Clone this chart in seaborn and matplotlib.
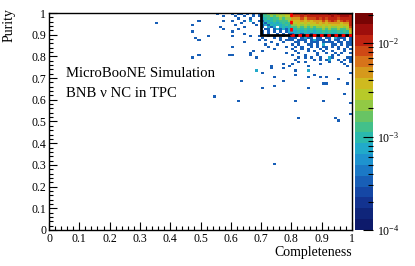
import numpy as np
import pandas as pd
import matplotlib
matplotlib.use("Agg")
import matplotlib.pyplot as plt
import seaborn as sns
from matplotlib.colors import LinearSegmentedColormap, LogNorm
from matplotlib.ticker import MultipleLocator, LogLocator, NullFormatter

plt.rcParams['font.family'] = ['Liberation Serif', 'DejaVu Serif']
plt.rcParams['mathtext.fontset'] = 'stix'

# ---------------- data ----------------
UNIT = 3.6e-4          # weight of one event
BIN_W = 0.01
DENSE_C0 = 0.60        # completeness of first column in DENSE_ROWS
DENSE_P_TOP = 0.99     # purity of first row in DENSE_ROWS

LEVEL_COUNTS = {'1': 1, '2': 2, '3': 3, '4': 4, '5': 6, '6': 8, '7': 11,
                '8': 15, '9': 21, 'R': 30, 'D': 42, 'X': 55}

DENSE_ROWS = [
    "1.11.1.1.1" + "4455565677" + "RRRRDRDDDDDDXDDXXXXX",
    ".1..1..1.1" + "3445456566" + "999R9RRRRRRRRDRRDDDR",
    "..1...1..." + "2343445455" + "88898999R9R9RRR9RRRR",
    "1...1.2..1" + "1323434445" + "7778787888989R989R9R",
    "...1...1.." + "2132323434" + "6676767787878888788R",
    ".1......1." + "1213232343" + "5565656667676777677R",
    "....1....." + "1.212.2323" + "44545454556565566569",
    "..1......." + ".11.121212" + "33434343445454454458",
    "1........." + "1.1.1.1.12" + "22323232334343343437",
    "....1....." + "1.1..1.1.1" + "12212212223232232325",
    "1.....1..1" + "..1.1..1.1" + "1211.121112.1211.111",
    ".........." + "1...1.1..1" + "11.1211.11.11.2111.1",
    ".........1" + ".1....1.11" + "1.111.12111.1.11.1.1",
    "....1....." + "...1...1.." + ".11.1.111.1111.11.11",
    ".........." + ".1...1...." + "1.1..11.1.2..11.1.11",
    "1........." + "..1.....1." + ".1.1..1.1.11.1.1..1.",
    ".........." + "....1....." + "1..1.1...1.1...1.1.1",
    ".......1.." + "1........." + ".1...1.1..1..1...1..",
    "......1..." + "........1." + "..1.....1..1..1.1..1",
    "1.....1..." + ".........." + "1...1...1....1.1....",
    "........1." + ".........." + "..1.1.1..1..21....11",
    ".........." + ".........." + ".1.....1.1.12..1.1.1",
    ".........." + ".........." + "..1.1.......1...1..1",
    ".........." + ".......1.." + "1........1.......1..",
    ".........." + "...1.....1" + ".....1............1.",
]

SPARSE_C = [0.35, 0.49, 0.47, 0.47, 0.52, 0.48, 0.49, 0.47, 0.49, 0.55, 0.57,
            0.56, 0.57, 0.57, 0.54, 0.59, 0.63, 0.68, 0.70, 0.74, 0.77, 0.70,
            0.74, 0.62, 0.81, 0.81, 0.85, 0.85, 0.87, 0.89, 0.91, 0.85, 0.90,
            0.91, 0.95, 0.99, 0.98, 0.97, 0.81, 0.90, 0.99, 0.99, 0.82, 0.94,
            0.95, 0.74, 0.77, 0.73]
SPARSE_P = [0.95, 0.96, 0.94, 0.91, 0.89, 0.88, 0.87, 0.79, 0.80, 0.99, 0.98,
            0.93, 0.92, 0.96, 0.61, 0.80, 0.68, 0.73, 0.72, 0.70, 0.68, 0.65,
            0.66, 0.59, 0.73, 0.71, 0.73, 0.70, 0.71, 0.70, 0.70, 0.65, 0.67,
            0.67, 0.69, 0.72, 0.67, 0.62, 0.59, 0.59, 0.58, 0.53, 0.51, 0.51,
            0.50, 0.30, 0.74, 0.74]
SPARSE_N = [1, 1, 1, 1, 1, 1, 1, 1, 1, 1, 1,
            1, 1, 1, 1, 1, 1, 2, 1, 1, 1, 1,
            1, 1, 1, 1, 2, 1, 1, 1, 1, 1, 1,
            1, 1, 1, 1, 1, 1, 1, 1, 1, 1, 1,
            1, 1, 1, 1]

CBAR_MIN, CBAR_MAX = 1e-4, 2.1e-2
PALETTE = ["#0d1a6b", "#0f2478", "#122f8c", "#1540a0", "#1655b0", "#1a6cc0",
           "#1c84cc", "#1f9bd0", "#22b0c8", "#2cbba8", "#44c088", "#66c466",
           "#8cc848", "#b0cc2c", "#ccc420", "#d4a81c", "#d8881c", "#d66418",
           "#cc3c14", "#bc1c10", "#9a0c0c", "#780404"]

TEXT_LINES = ["MicroBooNE Simulation", "BNB \u03bd NC in TPC"]

# ---------------- build table ----------------
cs, ps, ws = [], [], []
for r, row in enumerate(DENSE_ROWS):
    p = DENSE_P_TOP - r * BIN_W
    for j, ch in enumerate(row):
        if ch == '.':
            continue
        cs.append(DENSE_C0 + j * BIN_W + BIN_W / 2)
        ps.append(p + BIN_W / 2)
        ws.append(LEVEL_COUNTS[ch] * UNIT)
for c, p, n in zip(SPARSE_C, SPARSE_P, SPARSE_N):
    cs.append(c + BIN_W / 2)
    ps.append(p + BIN_W / 2)
    ws.append(n * UNIT)
df = pd.DataFrame({"Completeness": cs, "Purity": ps, "w": ws})

# ---------------- figure ----------------
W, H = 415, 266
fig = plt.figure(figsize=(W / 100, H / 100), dpi=100)
ax_l, ax_r, ax_t, ax_b = 49, 352, 13, 230
ax = fig.add_axes([ax_l / W, 1 - ax_b / H, (ax_r - ax_l) / W, (ax_b - ax_t) / H])
cax = fig.add_axes([355 / W, 1 - ax_b / H, 18 / W, (ax_b - ax_t) / H])

cmap = LinearSegmentedColormap.from_list("rootpal", PALETTE, N=20)
sns.histplot(data=df, x="Completeness", y="Purity", weights="w",
             bins=100, binrange=((0, 1), (0, 1)), cmap=cmap, ax=ax)
mesh = ax.collections[0]
mesh.set_norm(LogNorm(vmin=CBAR_MIN, vmax=CBAR_MAX))

# cut lines
ax.plot([0.7, 0.7, 1.0], [1.0, 0.9, 0.9], color="black", lw=2.0,
        solid_capstyle="butt", solid_joinstyle="miter", zorder=5)
ax.plot([0.8, 0.8, 1.0], [1.0, 0.9, 0.9], color="red", lw=2.0,
        linestyle=(0, (1.3, 1.3)), zorder=6)

ax.set_xlim(0, 1)
ax.set_ylim(0, 1)
ax.xaxis.set_major_locator(MultipleLocator(0.1))
ax.yaxis.set_major_locator(MultipleLocator(0.1))
ax.xaxis.set_minor_locator(MultipleLocator(0.02))
ax.yaxis.set_minor_locator(MultipleLocator(0.02))
ax.xaxis.set_major_formatter(matplotlib.ticker.FuncFormatter(lambda v, _: f"{v:g}"))
ax.yaxis.set_major_formatter(matplotlib.ticker.FuncFormatter(lambda v, _: f"{v:g}"))
ax.tick_params(which="both", direction="in", top=False, right=False,
               colors="black", labelsize=8.5, width=0.8)
ax.tick_params(which="major", length=6, pad=2)
ax.tick_params(which="minor", length=3)
for s in ax.spines.values():
    s.set_color("black")
    s.set_linewidth(1.0)

ax.set_xlabel("Completeness", fontsize=10, loc="right")
ax.set_ylabel("Purity", fontsize=10, loc="top")
ax.xaxis.set_label_coords(1.0, -0.075)
ax.yaxis.set_label_coords(-0.11, 1.025)

ax.text(0.056, 0.72, TEXT_LINES[0], transform=ax.transAxes, fontsize=10.6,
        va="center", ha="left")
ax.text(0.056, 0.63, TEXT_LINES[1], transform=ax.transAxes, fontsize=10.6,
        va="center", ha="left")

cb = fig.colorbar(mesh, cax=cax)
cb.outline.set_visible(False)
cax.yaxis.set_ticks_position("right")
cax.yaxis.set_minor_locator(LogLocator(base=10, subs=np.arange(2, 10)))
cax.yaxis.set_minor_formatter(NullFormatter())
cax.tick_params(which="both", direction="in", colors="black", labelsize=8.5)
cax.tick_params(which="major", length=7, width=0.8, pad=3)
cax.tick_params(which="minor", length=3.5, width=0.8)

fig.savefig("out.png", dpi=100)
